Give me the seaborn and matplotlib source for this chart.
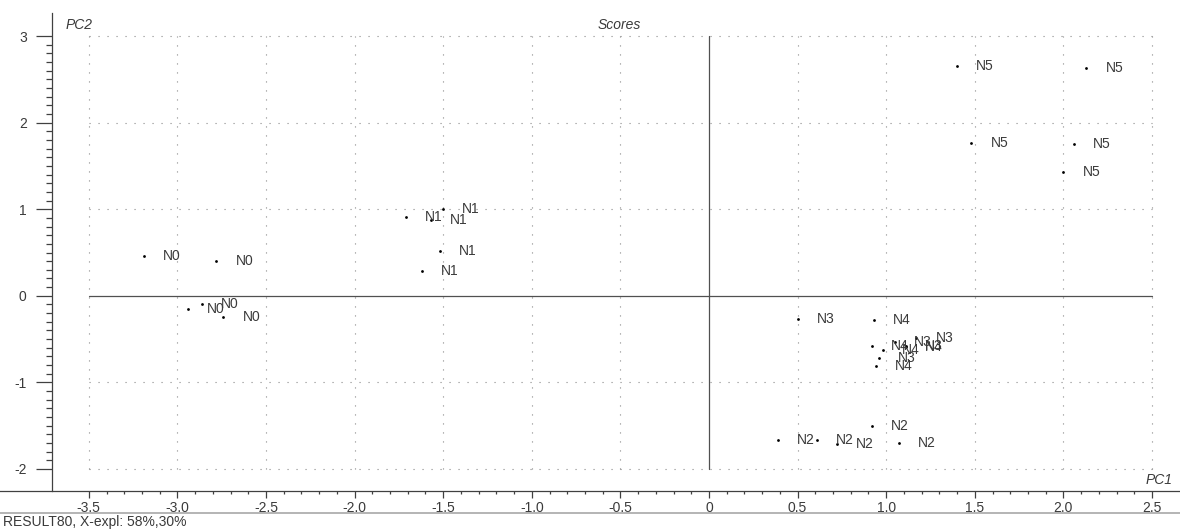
import numpy as np
import pandas as pd
import matplotlib
matplotlib.use('Agg')
import matplotlib.pyplot as plt
import seaborn as sns
from matplotlib.lines import Line2D
from matplotlib.ticker import FixedLocator, FuncFormatter

# scores
pc1 = [-3.19, -2.78, -2.94, -2.86, -2.74,
       -1.71, -1.57, -1.50, -1.52, -1.62,
       0.39, 0.61, 0.72, 0.92, 1.07,
       0.50, 1.05, 1.11, 1.17, 0.96,
       0.93, 0.92, 0.98, 0.94, 1.11,
       1.40, 2.13, 1.48, 2.06, 2.00]
pc2 = [0.46, 0.40, -0.15, -0.10, -0.25,
       0.91, 0.88, 1.00, 0.52, 0.29,
       -1.67, -1.67, -1.71, -1.50, -1.70,
       -0.27, -0.53, -0.58, -0.49, -0.72,
       -0.28, -0.58, -0.63, -0.81, -0.59,
       2.65, 2.63, 1.76, 1.75, 1.43]
labels = ['N0'] * 5 + ['N1'] * 5 + ['N2'] * 5 + ['N3'] * 5 + ['N4'] * 5 + ['N5'] * 5

x_ticks = [-3.5, -3.0, -2.5, -2.0, -1.5, -1.0, -0.5, 0, 0.5, 1.0, 1.5, 2.0, 2.5]
y_ticks = [-2, -1, 0, 1, 2, 3]

df = pd.DataFrame({'PC1': pc1, 'PC2': pc2, 'label': labels})

sns.set_style('white')
plt.rcParams['font.family'] = ['Liberation Sans', 'DejaVu Sans']
plt.rcParams['axes.unicode_minus'] = False
txt_col = '#3a3a3a'

fig = plt.figure(figsize=(11.8, 5.3), dpi=100)
ax = fig.add_axes([0, 39 / 530, 1, (491 - 13) / 530])

# pixel mapping from the reference: 0 -> x=709, 177.2 px per unit; y: 0 -> 295.8, 86.6 px per unit
ax.set_xlim(-709 / 177.2, 471 / 177.2)
ax.set_ylim(-(491 - 295.8) / 86.6, (295.8 - 13) / 86.6)

# dotted grid and solid zero lines
dots = (0, (1, 7.1))
for xv in x_ticks:
    if xv == 0:
        ax.plot([0, 0], [y_ticks[0], y_ticks[-1]], color='#505050', lw=0.9, zorder=1)
    else:
        ax.plot([xv, xv], [y_ticks[0], y_ticks[-1]], color='#8a8a8a', lw=0.8, ls=dots, zorder=1)
for yv in y_ticks:
    if yv == 0:
        ax.plot([x_ticks[0], x_ticks[-1]], [0, 0], color='#505050', lw=0.9, zorder=1)
    else:
        ax.plot([x_ticks[0], x_ticks[-1]], [yv, yv], color='#8a8a8a', lw=0.8, ls=dots, zorder=1)

sns.scatterplot(data=df, x='PC1', y='PC2', ax=ax, color='black', s=4, linewidth=0, zorder=3)
for _, r in df.iterrows():
    ax.annotate(r['label'], (r['PC1'], r['PC2']), xytext=(13.8, 0), textcoords='offset points',
                ha='left', va='center', fontsize=10, color=txt_col, zorder=4)

ax.set_xlabel('')
ax.set_ylabel('')

# axes / spines
for s in ['top', 'right']:
    ax.spines[s].set_visible(False)
ax.spines['left'].set_position(('data', (52 - 709) / 177.2))
for s in ['left', 'bottom']:
    ax.spines[s].set_color('#404040')
    ax.spines[s].set_linewidth(0.9)

ax.xaxis.set_major_locator(FixedLocator(x_ticks))
ax.xaxis.set_minor_locator(FixedLocator(np.round(np.arange(-3.5, 2.51, 0.1), 2)))
ax.yaxis.set_major_locator(FixedLocator(y_ticks))
ax.yaxis.set_minor_locator(FixedLocator(np.round(np.arange(-2, 3.01, 0.1), 2)))
ax.xaxis.set_major_formatter(FuncFormatter(lambda v, p: '0' if abs(v) < 1e-9 else f'{v:.1f}'))
ax.yaxis.set_major_formatter(FuncFormatter(lambda v, p: f'{int(round(v))}'))

ax.tick_params(axis='x', which='major', direction='out', length=5, width=0.9, color='#404040',
               labelsize=10, labelcolor=txt_col, pad=2, bottom=True)
ax.tick_params(axis='x', which='minor', direction='out', length=2, width=0.9, color='#404040', bottom=True)
ax.tick_params(axis='y', which='major', direction='out', length=11.2, width=0.9, color='#404040',
               labelsize=10, labelcolor=txt_col, pad=7, left=True)
ax.tick_params(axis='y', which='minor', direction='out', length=4.3, width=0.9, color='#404040', left=True)

# titles and footer
fig.text(66 / 1180, 1 - 25 / 530, 'PC2', style='italic', fontsize=10, color=txt_col, ha='left', va='center')
fig.text(598 / 1180, 1 - 25 / 530, 'Scores', style='italic', fontsize=10, color=txt_col, ha='left', va='center')
fig.text(1173 / 1180, 1 - 480 / 530, 'PC1', style='italic', fontsize=10, color=txt_col, ha='right', va='center')
fig.add_artist(Line2D([0, 1], [17 / 530, 17 / 530], color='#a8a8a8', lw=1.2))
fig.text(3 / 1180, 1 - 522 / 530, 'RESULT80, X-expl: 58%,30%', fontsize=10, color=txt_col,
         ha='left', va='center')

fig.savefig('out.png', dpi=100)
